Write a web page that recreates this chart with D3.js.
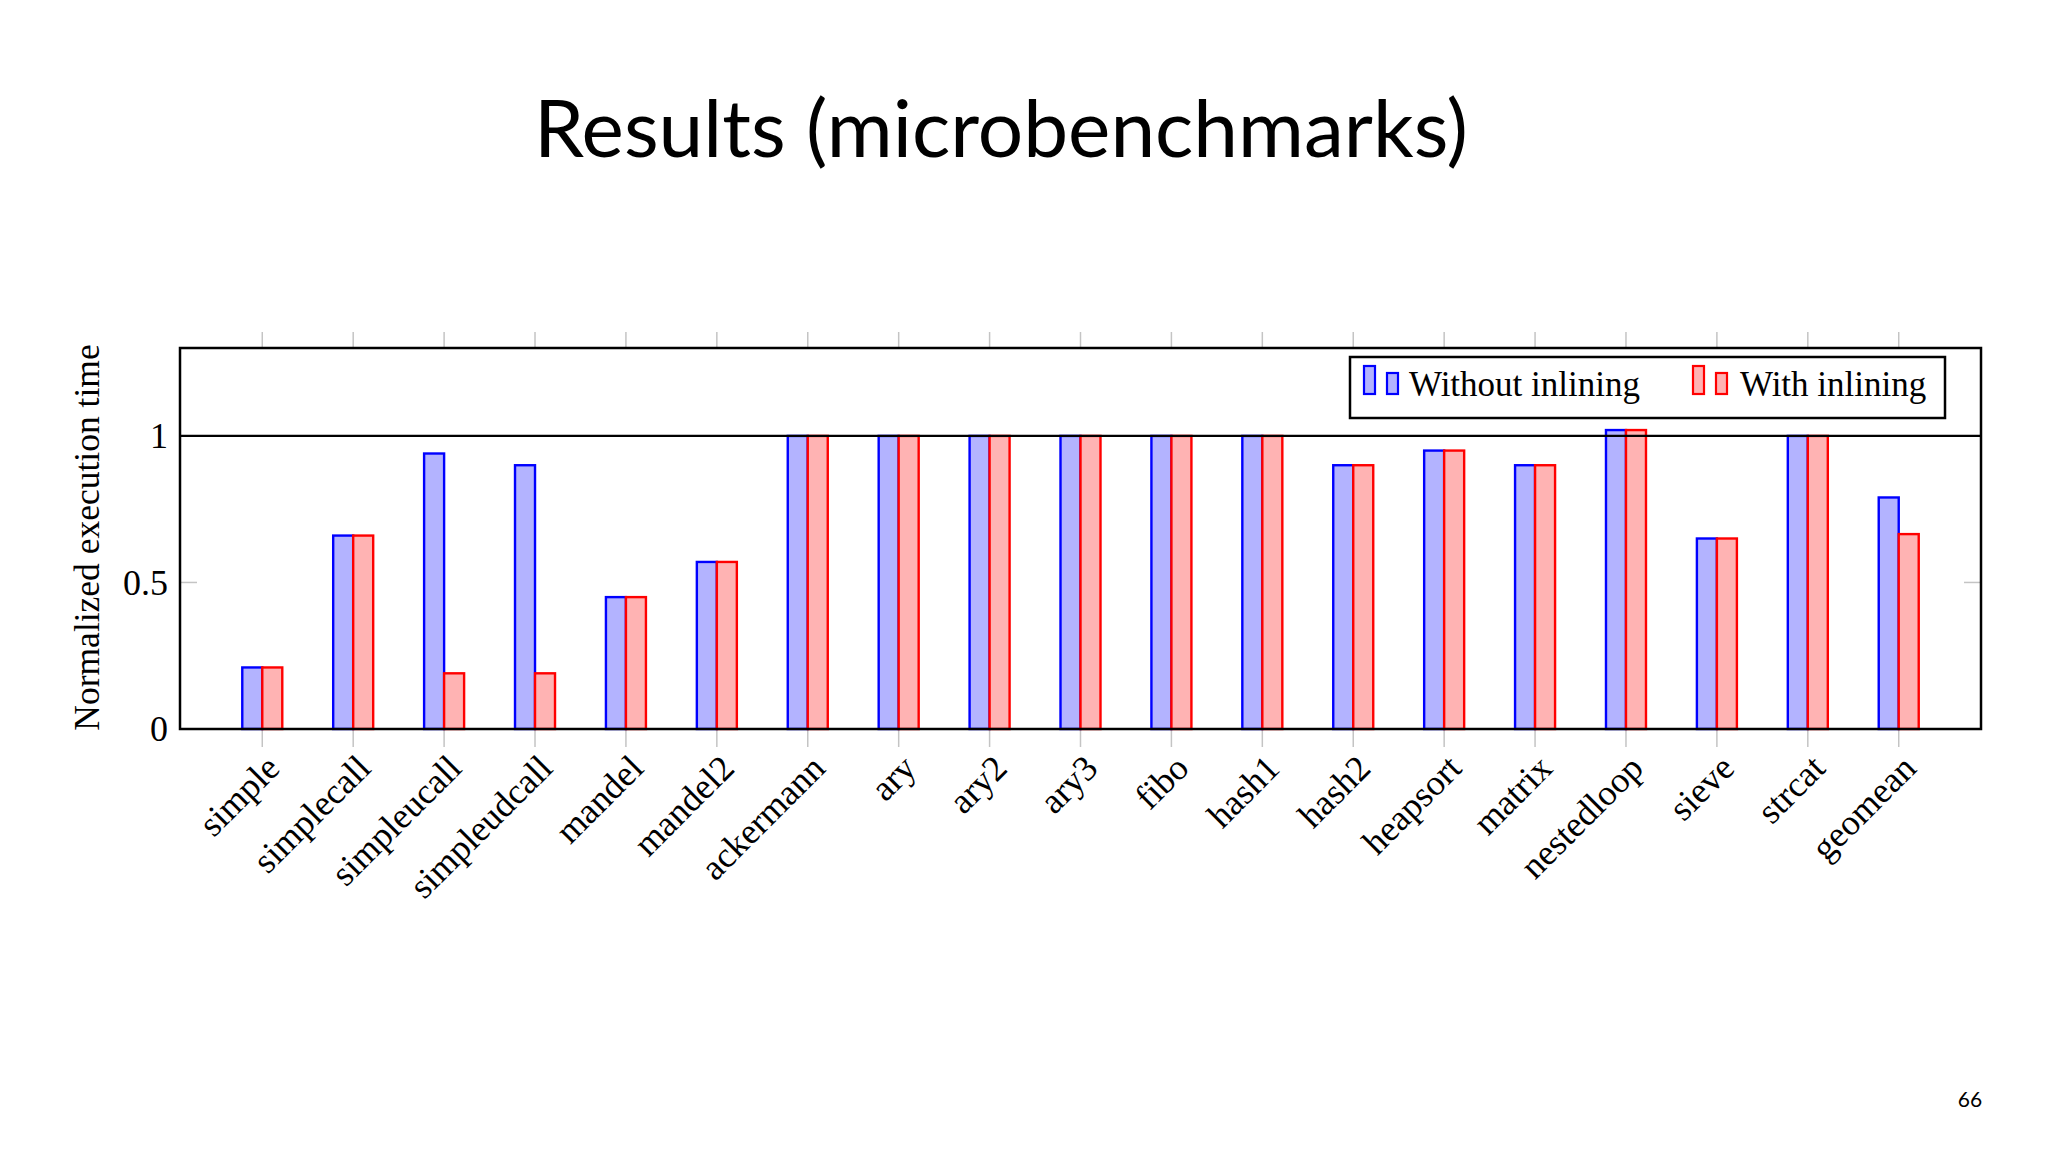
<!DOCTYPE html>
<html>
<head>
<meta charset="utf-8">
<script src="https://cdn.jsdelivr.net/npm/d3@7"></script>
<style>
  html, body { margin: 0; padding: 0; background: #ffffff; }
  svg { display: block; }
</style>
</head>
<body>
<svg id="chart" width="2048" height="1152"></svg>
<script>
const categories = ["simple","simplecall","simpleucall","simpleudcall","mandel","mandel2","ackermann","ary","ary2","ary3","fibo","hash1","hash2","heapsort","matrix","nestedloop","sieve","strcat","geomean"];
const withoutInlining = [0.21,0.66,0.94,0.90,0.45,0.57,1.0,1.0,1.0,1.0,1.0,1.0,0.90,0.95,0.90,1.02,0.65,1.0,0.79];
const withInlining    = [0.21,0.66,0.19,0.19,0.45,0.57,1.0,1.0,1.0,1.0,1.0,1.0,0.90,0.95,0.90,1.02,0.65,1.0,0.665];
const seriesNames = ["Without inlining","With inlining"];
const yTicks = [0, 0.5, 1];
const yTickLabels = ["0","0.5","1"];
const titleText = "Results (microbenchmarks)";
const yAxisTitle = "Normalized execution time";
const pageNumber = "66";

const svg = d3.select("#chart");
const L = 180, R = 1981, T = 348, B = 729;
const serif = "'Liberation Serif', 'Times New Roman', serif";

const x = d3.scalePoint().domain(categories).range([L, R]).padding(0.905);
const y = d3.scaleLinear().domain([0, 1.3]).range([B, T]);
const barW = 20;

// title
svg.append("text").attr("x", 1001).attr("y", 157)
  .attr("text-anchor", "middle")
  .attr("font-family", "Lato, 'Open Sans', sans-serif")
  .attr("font-size", 80).attr("fill", "#000")
  .attr("textLength", 934).attr("lengthAdjust", "spacingAndGlyphs")
  .text(titleText);

// page number
svg.append("text").attr("x", 1970).attr("y", 1107)
  .attr("text-anchor", "middle")
  .attr("font-family", "Lato, 'Open Sans', sans-serif")
  .attr("font-size", 21).attr("fill", "#000")
  .text(pageNumber);

// x tick marks (outside, gray)
const gTicks = svg.append("g").attr("stroke", "#c4c4c4").attr("stroke-width", 1.5);
categories.forEach(c => {
  gTicks.append("line").attr("x1", x(c)).attr("x2", x(c)).attr("y1", T - 16).attr("y2", T);
  gTicks.append("line").attr("x1", x(c)).attr("x2", x(c)).attr("y1", B).attr("y2", B + 18);
});
// y tick marks (inside, gray)
yTicks.forEach(t => {
  gTicks.append("line").attr("x1", L).attr("x2", L + 17).attr("y1", y(t)).attr("y2", y(t));
  gTicks.append("line").attr("x1", R - 17).attr("x2", R).attr("y1", y(t)).attr("y2", y(t));
});

// bars
const series = [
  { values: withoutInlining, fill: "#b3b3ff", stroke: "#0000ff", off: -barW },
  { values: withInlining,    fill: "#ffb3b3", stroke: "#ff0000", off: 0 }
];
series.forEach(s => {
  svg.append("g").selectAll("rect").data(categories).join("rect")
    .attr("x", d => x(d) + s.off)
    .attr("y", (d, i) => y(s.values[i]))
    .attr("width", barW)
    .attr("height", (d, i) => y(0) - y(s.values[i]))
    .attr("fill", s.fill).attr("stroke", s.stroke).attr("stroke-width", 2.4);
});

// y = 1 reference line
svg.append("line").attr("x1", L).attr("x2", R).attr("y1", y(1)).attr("y2", y(1))
  .attr("stroke", "#000").attr("stroke-width", 2.2);

// axis box
svg.append("rect").attr("x", L).attr("y", T).attr("width", R - L).attr("height", B - T)
  .attr("fill", "none").attr("stroke", "#000").attr("stroke-width", 2.5);

// y tick labels
yTicks.forEach((t, i) => {
  svg.append("text").attr("x", L - 12).attr("y", y(t)).attr("dy", "0.34em")
    .attr("text-anchor", "end").attr("font-family", serif).attr("font-size", 36)
    .attr("fill", "#000").text(yTickLabels[i]);
});

// y axis title
svg.append("text").attr("transform", `translate(99, ${(T + B) / 2 - 1}) rotate(-90)`)
  .attr("text-anchor", "middle").attr("font-family", serif).attr("font-size", 35.5)
  .attr("fill", "#000").text(yAxisTitle);

// x tick labels
categories.forEach(c => {
  svg.append("text").attr("transform", `translate(${x(c) + 4}, ${B + 26}) rotate(-45)`)
    .attr("text-anchor", "end").attr("dy", "0.6em")
    .attr("font-family", serif).attr("font-size", 36).attr("fill", "#000").text(c);
});

// legend
const lg = svg.append("g");
lg.append("rect").attr("x", 1350).attr("y", 357).attr("width", 595).attr("height", 61)
  .attr("fill", "#fff").attr("stroke", "#000").attr("stroke-width", 2.5);
const legendItems = [
  { name: seriesNames[0], fill: "#b3b3ff", stroke: "#0000ff", x0: 1364, tx: 1409 },
  { name: seriesNames[1], fill: "#ffb3b3", stroke: "#ff0000", x0: 1693, tx: 1740 }
];
legendItems.forEach(it => {
  lg.append("rect").attr("x", it.x0).attr("y", 366).attr("width", 11).attr("height", 28)
    .attr("fill", it.fill).attr("stroke", it.stroke).attr("stroke-width", 2.2);
  lg.append("rect").attr("x", it.x0 + 23).attr("y", 373).attr("width", 11).attr("height", 21)
    .attr("fill", it.fill).attr("stroke", it.stroke).attr("stroke-width", 2.2);
  lg.append("text").attr("x", it.tx).attr("y", 396)
    .attr("font-family", serif).attr("font-size", 35).attr("fill", "#000").text(it.name);
});
</script>
</body>
</html>
